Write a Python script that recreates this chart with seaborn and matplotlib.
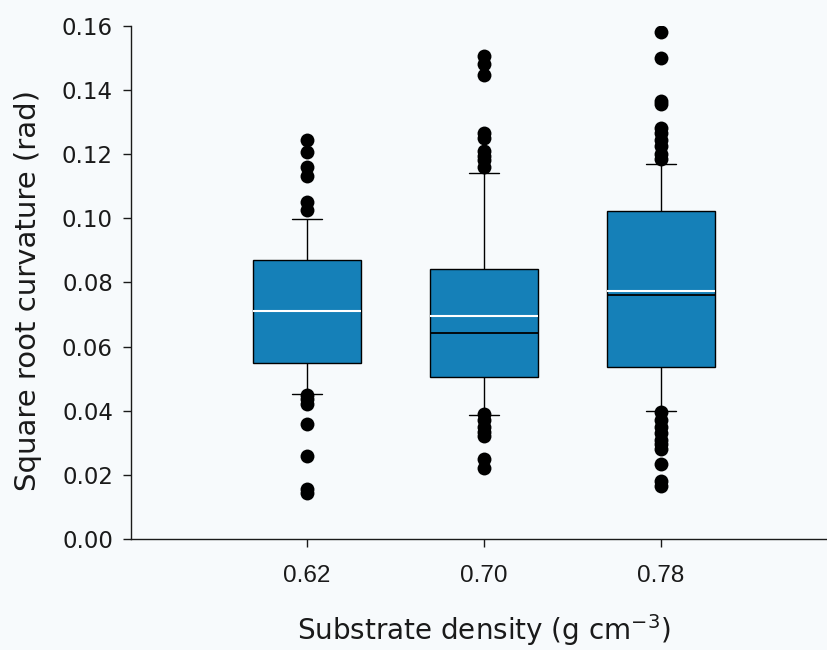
import numpy as np
import pandas as pd
import matplotlib
matplotlib.use("Agg")
import matplotlib.pyplot as plt
import seaborn as sns

# Substrate density groups
densities = ["0.62", "0.70", "0.78"]

# Box summaries (rad): whisker ends, quartiles and medians
whisker_low = [0.0452, 0.0387, 0.0400]
quartile_1 = [0.0550, 0.0505, 0.0537]
medians = [0.0710, 0.0642, 0.0760]
quartile_3 = [0.0870, 0.0842, 0.1023]
whisker_high = [0.0998, 0.1142, 0.1168]
means = [0.0712, 0.0695, 0.0774]

# Points beyond the whiskers
outliers_062 = [0.1243, 0.1205, 0.1160, 0.1130, 0.1050, 0.1025,
                0.0450, 0.0435, 0.0420, 0.0360, 0.0260, 0.0155, 0.0143]
outliers_070 = [0.1505, 0.1480, 0.1445, 0.1265, 0.1250, 0.1210, 0.1195, 0.1180, 0.1160,
                0.0390, 0.0370, 0.0350, 0.0335, 0.0320, 0.0250, 0.0222]
outliers_078 = [0.1580, 0.1500, 0.1365, 0.1355, 0.1280, 0.1265, 0.1245, 0.1225, 0.1200, 0.1185,
                0.0395, 0.0370, 0.0350, 0.0330, 0.0310, 0.0295, 0.0280, 0.0235, 0.0180, 0.0165]

y_ticks = [0.00, 0.02, 0.04, 0.06, 0.08, 0.10, 0.12, 0.14, 0.16]

BOX_COLOR = "#1580b8"
BG = "#f7fafc"
INK = "#1a1a1a"
BOX_WIDTH = 0.61

# five-number table per group: quartiles fall exactly on the 2nd/3rd/4th values
summary = pd.DataFrame({
    "density": np.repeat(densities, 5),
    "value": np.column_stack([whisker_low, quartile_1, medians,
                              quartile_3, whisker_high]).ravel(),
})
fliers = pd.DataFrame({
    "density": (["0.62"] * len(outliers_062) + ["0.70"] * len(outliers_070)
                + ["0.78"] * len(outliers_078)),
    "value": outliers_062 + outliers_070 + outliers_078,
})

sns.set_style("ticks")
plt.rcParams["font.family"] = ["DejaVu Sans"]

fig = plt.figure(figsize=(8.27, 6.5), dpi=100, facecolor=BG)
ax = fig.add_axes([131 / 827, 111 / 650, 696 / 827, 513.3 / 650])
ax.set_facecolor(BG)

sns.boxplot(data=summary, x="density", y="value", order=densities,
            whis=np.inf, width=BOX_WIDTH, color=BOX_COLOR, saturation=1,
            linecolor="black", linewidth=1.0, showfliers=False,
            medianprops={"color": "black", "linewidth": 1.3},
            capwidths=0.17, ax=ax)

# mean lines in white across each box
pos = np.arange(len(densities))
ax.hlines(means, pos - BOX_WIDTH / 2, pos + BOX_WIDTH / 2,
          colors="white", linewidth=1.5, zorder=5)

sns.stripplot(data=fliers, x="density", y="value", order=densities,
              jitter=False, color="black", size=10, linewidth=0,
              ax=ax, zorder=6)

ax.set_xlim(-0.995, 2.94)
ax.set_ylim(0, 0.16)
ax.set_yticks(y_ticks)
ax.set_yticklabels([f"{t:.2f}" for t in y_ticks], fontsize=16.5)
ax.set_xticks(pos)
ax.set_xticklabels(densities, fontsize=17.5, family=["Liberation Sans", "DejaVu Sans"])

ax.tick_params(axis="y", direction="out", length=6, width=1, pad=7, colors=INK)
ax.tick_params(axis="x", direction="out", length=6, width=1, pad=13, colors=INK)
ax.yaxis.get_major_ticks()[-1].tick1line.set_color("#c8323c")

for side in ("top", "right"):
    ax.spines[side].set_visible(False)
for side in ("left", "bottom"):
    ax.spines[side].set_linewidth(1.0)
    ax.spines[side].set_color(INK)

ax.set_ylabel("Square root curvature (rad)", fontsize=21, color=INK)
ax.set_xlabel("Substrate density (g cm$^{-3}$)", fontsize=20, color=INK)
ax.yaxis.set_label_coords(-0.128, 0.485)
ax.xaxis.set_label_coords(0.507, -0.142)

fig.savefig("out.png", dpi=100, facecolor=BG)
